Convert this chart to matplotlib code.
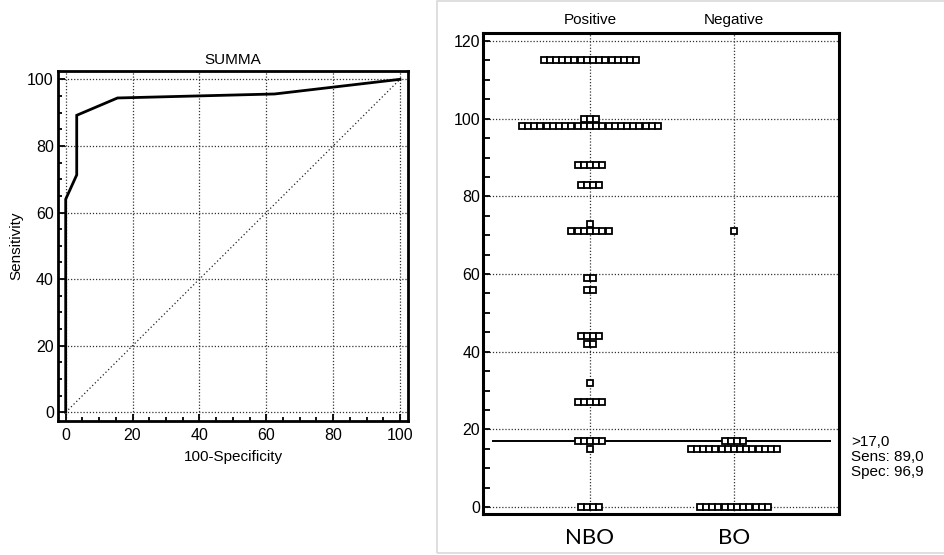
import numpy as np
import matplotlib.pyplot as plt
from matplotlib.patches import Rectangle
from matplotlib.ticker import MultipleLocator

plt.rcParams['font.family'] = ['Liberation Sans', 'DejaVu Sans']

# ROC curve (left panel)
roc_fpr = [0, 0, 3.3, 3.3, 15.5, 62.5, 100]
roc_sens = [0, 64, 71.3, 89.2, 94.4, 95.6, 100]
roc_title = 'SUMMA'

# dot plot (right panel): value -> number of cases
groups = ['NBO', 'BO']
group_top = ['Positive', 'Negative']
nbo_values = [115, 100, 98, 88, 83, 73, 71, 59, 56, 44, 42, 32, 27, 17, 15, 0]
nbo_counts = [16, 3, 23, 5, 4, 1, 7, 2, 2, 4, 2, 1, 5, 5, 1, 4]
bo_values = [71, 17, 15, 0]
bo_counts = [1, 4, 15, 12]
cutoff = 17
cutoff_text = '>17,0\nSens: 89,0\nSpec: 96,9'

fig = plt.figure(figsize=(9.45, 5.55), dpi=100)

grid_kw = dict(color='#333333', linewidth=0.9, linestyle=(0, (1, 1.5)))

# ---- left: ROC ----
ax1 = fig.add_axes([58 / 945, 1 - 421 / 555, 350 / 945, 350 / 555])
ax1.plot([0, 100], [0, 100], color='#222222', linewidth=0.9, linestyle=(0, (1, 2)))
ax1.plot(roc_fpr, roc_sens, color='black', linewidth=2.0, solid_joinstyle='miter')
ax1.set_xlim(-2.3, 102.4)
ax1.set_ylim(-2.6, 102.5)
ax1.xaxis.set_major_locator(MultipleLocator(20))
ax1.yaxis.set_major_locator(MultipleLocator(20))
ax1.xaxis.set_minor_locator(MultipleLocator(5))
ax1.yaxis.set_minor_locator(MultipleLocator(5))
ax1.tick_params(which='both', direction='in', width=1.3, labelsize=11.5)
ax1.tick_params(which='major', length=5, pad=3)
ax1.tick_params(axis='x', which='major', pad=5)
ax1.tick_params(which='minor', length=3)
ax1.grid(True, which='major', **grid_kw)
for s in ax1.spines.values():
    s.set_linewidth(2.0)
ax1.set_title(roc_title, fontsize=11, pad=5)
ax1.set_xlabel('100-Specificity', fontsize=11, labelpad=5)
ax1.set_ylabel('Sensitivity', fontsize=11, labelpad=3)

# ---- right: dot plot ----
ax2 = fig.add_axes([483 / 945, 1 - 514 / 555, 356 / 945, 481 / 555])
dx = 0.043
for gx, (vals, cnts) in enumerate([(nbo_values, nbo_counts), (bo_values, bo_counts)], start=1):
    for v, n in zip(vals, cnts):
        xs = gx + (np.arange(n) - (n - 1) / 2) * dx
        ax2.plot(xs, [v] * n, linestyle='none', marker='s', markersize=3.9,
                 markerfacecolor='white', markeredgecolor='black', markeredgewidth=1.3, zorder=3)

ax2.plot([0.326, 2.667], [cutoff, cutoff], color='black', linewidth=1.4, zorder=2)
ax2.set_xlim(0.257, 2.73)
ax2.set_ylim(-1.8, 122.06)
ax2.set_xticks([1, 2])
ax2.set_xticklabels(groups, fontfamily=['Lato', 'DejaVu Sans'], fontsize=16)
ax2.tick_params(axis='x', length=0, pad=10)
ax2.yaxis.set_major_locator(MultipleLocator(20))
ax2.yaxis.set_minor_locator(MultipleLocator(5))
ax2.tick_params(axis='y', which='both', direction='in', length=5, width=1.3, labelsize=11.5, pad=2)
ax2.grid(True, which='major', **grid_kw)
for s in ax2.spines.values():
    s.set_linewidth(2.2)
for gx, lab in enumerate(group_top, start=1):
    ax2.text(gx, 1.026, lab, transform=ax2.get_xaxis_transform(),
             ha='center', va='center', fontsize=11)
ax2.text(851 / 945, 1 - 457 / 555, cutoff_text, transform=fig.transFigure,
         ha='left', va='center', fontsize=11, linespacing=1.1)

# light grey panel frame on the right
fig.patches.append(Rectangle((437 / 945, 2 / 555), 0.6, 1 - 3 / 555, transform=fig.transFigure,
                             fill=False, edgecolor='#d9d9d9', linewidth=1.2))

fig.savefig('out.png', dpi=100)
